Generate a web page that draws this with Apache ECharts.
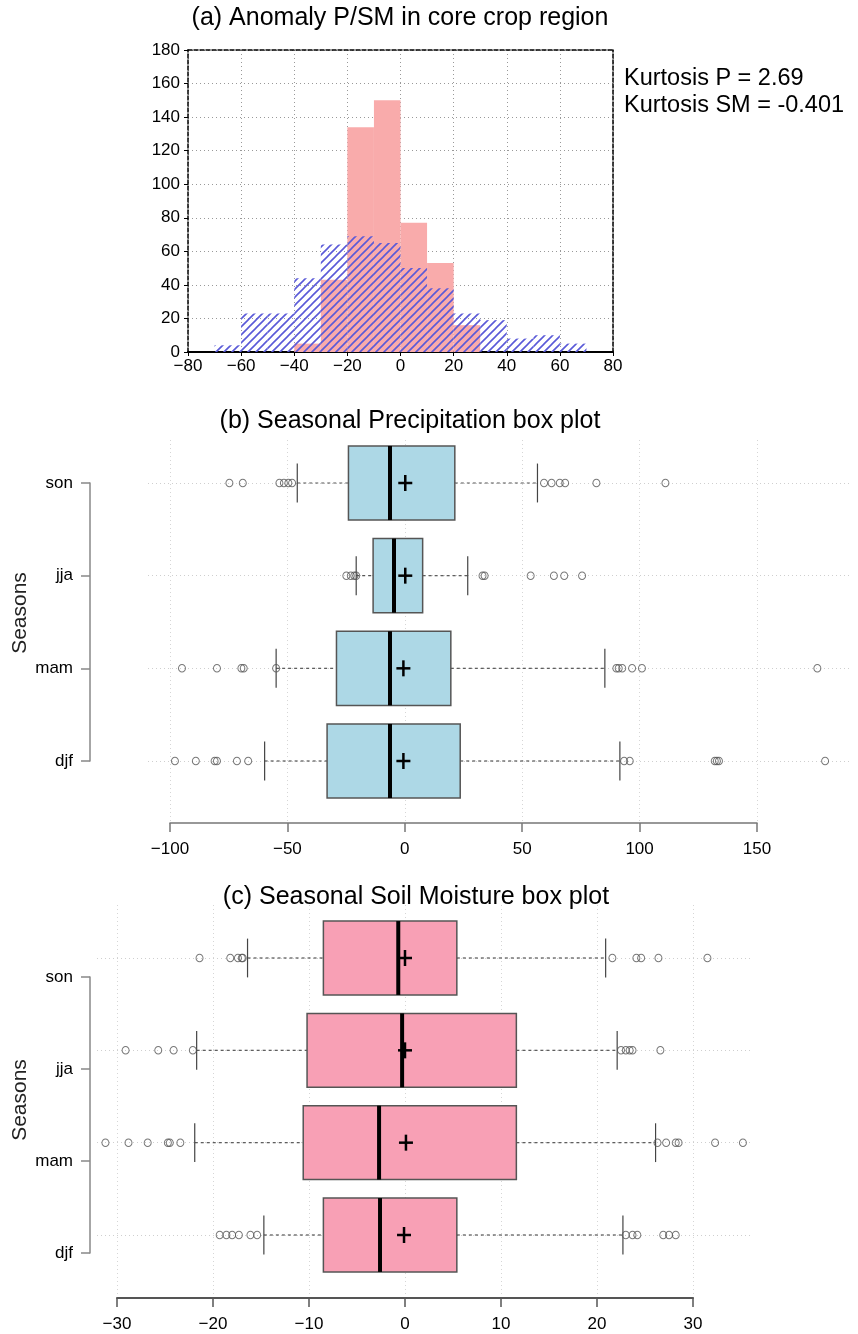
<!DOCTYPE html>
<html>
<head>
<meta charset="utf-8">
<script src="https://cdn.jsdelivr.net/npm/echarts@6/dist/echarts.min.js"></script>
<style>
  html, body { margin: 0; padding: 0; background: #fff; }
  #chart { width: 858px; height: 1334px; }
</style>
</head>
<body>
<div id="chart"></div>
<script>
// ---- (a) histogram data: left edges of 10-wide bins ----
const binLeft = [-70, -60, -50, -40, -30, -20, -10, 0, 10, 20, 30, 40, 50, 60];
const binWidth = 10;
const countP  = [0, 0, 0, 5, 43, 134, 150, 77, 53, 16, 0, 0, 0, 0];
const countSM = [4, 23, 23, 44, 64, 69, 65, 50, 38, 23, 19, 8, 10, 5];
const kurtLines = ['Kurtosis P = 2.69', 'Kurtosis SM = -0.401'];

// ---- box plots: order son, jja, mam, djf ----
const seasons = ['son', 'jja', 'mam', 'djf'];
const seasonAxis = ['djf', 'mam', 'jja', 'son']; // bottom -> top

// precipitation
const pLow  = [-45.8, -20.7, -54.8, -59.7];
const pQ1   = [-24.0, -13.5, -29.1, -33.1];
const pMed  = [-6.3, -4.6, -6.3, -6.3];
const pQ3   = [21.3, 7.6, 19.6, 23.6];
const pHigh = [56.5, 26.8, 85.2, 91.6];
const pMean = [0.2, 0.2, -0.6, -0.6];
const pOut = [
  [-74.7, -69, -53.4, -51.5, -49.6, -48, 59.3, 62.5, 66, 68.3, 81.6, 111],
  [-24.9, -23, -21.5, -20.7, 33.1, 34, 53.6, 63.5, 67.9, 75.5],
  [-94.9, -80, -69.6, -68.6, -54.8, 90.1, 91.1, 92.6, 96.8, 101, 175.7],
  [-97.9, -89, -81, -80, -71.5, -66.7, 93.4, 95.8, 132, 132.9, 133.8, 179]
];

// soil moisture
const sLow  = [-16.4, -21.7, -21.9, -14.7];
const sQ1   = [-8.5, -10.2, -10.6, -8.5];
const sMed  = [-0.7, -0.3, -2.7, -2.6];
const sQ3   = [5.4, 11.6, 11.6, 5.4];
const sHigh = [20.9, 22.1, 26.1, 22.7];
const sMean = [0, 0, 0.1, -0.1];
const sOut = [
  [-21.4, -18.2, -17.4, -17.0, -16.9, 21.6, 24.1, 24.6, 26.4, 31.5],
  [-29.1, -25.7, -24.1, -22.1, 22.5, 23.0, 23.4, 23.7, 26.6],
  [-31.2, -28.8, -26.8, -24.7, -24.5, -23.4, 26.3, 27.2, 28.2, 28.5, 32.3, 35.2],
  [-19.3, -18.6, -18.0, -17.3, -16.1, -15.4, 23.0, 23.7, 24.2, 26.9, 27.5, 28.2]
];

const FONT = '"Liberation Sans", Arial, sans-serif';
const minus = (v) => String(v).replace('-', '\u2212');

function makeHatch() {
  const c = document.createElement('canvas');
  c.width = 8; c.height = 8;
  const g = c.getContext('2d');
  g.strokeStyle = '#5a5ad8';
  g.lineWidth = 1.6;
  g.beginPath();
  g.moveTo(-1, 9); g.lineTo(9, -1);
  g.moveTo(-1, 1); g.lineTo(1, -1);
  g.moveTo(7, 9); g.lineTo(9, 7);
  g.stroke();
  return c;
}
const hatch = { image: makeHatch(), repeat: 'repeat' };

function histSeries(counts, fill) {
  return {
    type: 'custom',
    xAxisIndex: 0, yAxisIndex: 0,
    data: binLeft.map((x, i) => [x, x + binWidth, counts[i]]),
    renderItem: (params, api) => {
      const a = api.coord([api.value(0), api.value(2)]);
      const b = api.coord([api.value(1), 0]);
      return { type: 'rect', shape: { x: a[0], y: a[1], width: b[0] - a[0], height: b[1] - a[1] }, style: { fill: fill } };
    }
  };
}

function boxSeries(axisIdx, low, q1, med, q3, high, mean, fill) {
  return {
    type: 'custom',
    xAxisIndex: axisIdx, yAxisIndex: axisIdx,
    clip: false,
    encode: { x: [1, 2, 3, 4, 5, 6], y: 0 },
    data: seasons.map((s, i) => [s, low[i], q1[i], med[i], q3[i], high[i], mean[i]]),
    renderItem: (params, api) => {
      const cat = api.value(0);
      const band = api.size([0, 1])[1];
      const hh = band * 0.4, cap = band * 0.21;
      const pt = (v) => api.coord([v, cat]);
      const lo = pt(api.value(1)), b1 = pt(api.value(2)), md = pt(api.value(3));
      const b3 = pt(api.value(4)), hi = pt(api.value(5)), mn = pt(api.value(6));
      const y = lo[1];
      const dash = { stroke: '#555', lineWidth: 1.2, lineDash: [3, 3] };
      return {
        type: 'group',
        children: [
          { type: 'line', shape: { x1: lo[0], y1: y, x2: b1[0], y2: y }, style: dash },
          { type: 'line', shape: { x1: b3[0], y1: y, x2: hi[0], y2: y }, style: dash },
          { type: 'line', shape: { x1: lo[0], y1: y - cap, x2: lo[0], y2: y + cap }, style: { stroke: '#444', lineWidth: 1.2 } },
          { type: 'line', shape: { x1: hi[0], y1: y - cap, x2: hi[0], y2: y + cap }, style: { stroke: '#444', lineWidth: 1.2 } },
          { type: 'rect', shape: { x: b1[0], y: y - hh, width: b3[0] - b1[0], height: 2 * hh }, style: { fill: fill, stroke: '#555', lineWidth: 1.5 } },
          { type: 'line', shape: { x1: md[0], y1: y - hh, x2: md[0], y2: y + hh }, style: { stroke: '#000', lineWidth: 4 } },
          { type: 'line', shape: { x1: mn[0] - 7, y1: y, x2: mn[0] + 7, y2: y }, style: { stroke: '#000', lineWidth: 2.5 } },
          { type: 'line', shape: { x1: mn[0], y1: y - 8, x2: mn[0], y2: y + 8 }, style: { stroke: '#000', lineWidth: 2.5 } }
        ]
      };
    }
  };
}

function outlierSeries(axisIdx, outs) {
  const data = [];
  seasons.forEach((s, i) => outs[i].forEach((v) => data.push([v, s])));
  return {
    type: 'scatter',
    xAxisIndex: axisIdx, yAxisIndex: axisIdx,
    clip: false,
    symbol: 'circle',
    symbolSize: [7, 7.5],
    itemStyle: { color: 'rgba(255,255,255,0)', borderColor: '#555', borderWidth: 1 },
    data: data,
    z: 5
  };
}

const dotted = (c) => ({ show: true, lineStyle: { color: c, type: [1, 3], width: 1 } });
const hidden = { axisLine: { show: false, onZero: false }, axisTick: { show: false }, axisLabel: { show: false }, splitLine: { show: false } };
const tickLabel = (size) => ({ color: '#000', fontSize: size, fontFamily: FONT, formatter: minus });
const seasonLabel = { color: '#000', fontSize: 17, fontFamily: FONT, margin: 17 };

const option = {
  animation: false,
  backgroundColor: '#fff',
  grid: [
    { left: 188, top: 50, width: 425, height: 302 },      // 0 histogram
    { left: 170, top: 440, width: 587, height: 383 },     // 1 (b) x axis
    { left: 148, top: 483, width: 703, height: 278 },     // 2 (b) data
    { left: 117, top: 905, width: 576, height: 393 },     // 3 (c) x axis
    { left: 97, top: 958, width: 654, height: 277 },      // 4 (c) data
    { left: 90, top: 977, width: 10, height: 276 }        // 5 (c) season labels
  ],
  xAxis: [
    { gridIndex: 0, type: 'value', min: -80, max: 80, interval: 20,
      axisLine: { onZero: false, lineStyle: { color: '#000', width: 2 } },
      axisTick: { length: 4, lineStyle: { color: '#000' } },
      axisLabel: Object.assign(tickLabel(17), { margin: 6 }),
      splitLine: dotted('#999') },
    { gridIndex: 0, type: 'value', position: 'top', min: -80, max: 80,
      axisLine: { onZero: false, lineStyle: { color: '#000', width: 1.5, type: [4, 2] } },
      axisTick: { show: false }, axisLabel: { show: false }, splitLine: { show: false } },
    { gridIndex: 1, type: 'value', min: -100, max: 150, interval: 50,
      axisLine: { onZero: false, lineStyle: { color: '#777', width: 1.5 } },
      axisTick: { length: 9, lineStyle: { color: '#777', width: 1.5 } },
      axisLabel: Object.assign(tickLabel(17), { margin: 18 }),
      splitLine: dotted('#d6d6d6') },
    Object.assign({ gridIndex: 2, type: 'value', min: -109.37, max: 190.03 }, hidden),
    { gridIndex: 3, type: 'value', min: -30, max: 30, interval: 10,
      axisLine: { onZero: false, lineStyle: { color: '#555', width: 2 } },
      axisTick: { length: 9, lineStyle: { color: '#555', width: 1.5 } },
      axisLabel: Object.assign(tickLabel(17), { margin: 18 }),
      splitLine: dotted('#d6d6d6') },
    Object.assign({ gridIndex: 4, type: 'value', min: -32.08, max: 36.04 }, hidden),
    Object.assign({ gridIndex: 5, type: 'value', min: 0, max: 1 }, hidden)
  ],
  yAxis: [
    { gridIndex: 0, type: 'value', min: 0, max: 180, interval: 20,
      axisLine: { show: true, onZero: false, lineStyle: { color: '#000', width: 1.5, type: [4, 2] } },
      axisTick: { show: true, length: 4, lineStyle: { color: '#000' } },
      axisLabel: Object.assign(tickLabel(17), { margin: 8 }),
      splitLine: dotted('#999') },
    { gridIndex: 0, type: 'value', position: 'right', min: 0, max: 180,
      axisLine: { show: true, onZero: false, lineStyle: { color: '#000', width: 1.5, type: [4, 2] } },
      axisTick: { show: false }, axisLabel: { show: false }, splitLine: { show: false } },
    Object.assign({ gridIndex: 1, type: 'value', min: 0, max: 1 }, hidden),
    { gridIndex: 2, type: 'category', data: seasonAxis, boundaryGap: false, offset: 58,
      axisLine: { show: true, onZero: false, lineStyle: { color: '#888', width: 1.5 } },
      axisTick: { show: true, length: 9, lineStyle: { color: '#888', width: 1.5 } },
      axisLabel: seasonLabel,
      splitLine: dotted('#cfcfcf') },
    Object.assign({ gridIndex: 3, type: 'value', min: 0, max: 1 }, hidden),
    { gridIndex: 4, type: 'category', data: seasonAxis, boundaryGap: false,
      axisLine: { show: false, onZero: false }, axisTick: { show: false }, axisLabel: { show: false },
      splitLine: dotted('#cfcfcf') },
    { gridIndex: 5, type: 'category', data: seasonAxis, boundaryGap: false,
      axisLine: { show: true, onZero: false, lineStyle: { color: '#888', width: 1.5 } },
      axisTick: { show: true, length: 9, lineStyle: { color: '#888', width: 1.5 } },
      axisLabel: seasonLabel,
      splitLine: { show: false } }
  ],
  series: [
    histSeries(countP, '#f9abab'),
    histSeries(countSM, hatch),
    boxSeries(3, pLow, pQ1, pMed, pQ3, pHigh, pMean, '#add8e6'),
    outlierSeries(3, pOut),
    boxSeries(5, sLow, sQ1, sMed, sQ3, sHigh, sMean, '#f8a0b5'),
    outlierSeries(5, sOut)
  ],
  graphic: [
    { type: 'text', x: 400, y: 18, style: { text: '(a) Anomaly P/SM in core crop region', font: '25px ' + FONT, fill: '#000', textAlign: 'center', textVerticalAlign: 'middle' } },
    { type: 'text', x: 624, y: 79, style: { text: kurtLines[0], font: '23.5px ' + FONT, fill: '#000', textAlign: 'left', textVerticalAlign: 'middle' } },
    { type: 'text', x: 624, y: 106, style: { text: kurtLines[1], font: '23.5px ' + FONT, fill: '#000', textAlign: 'left', textVerticalAlign: 'middle' } },
    { type: 'text', x: 410, y: 421, style: { text: '(b) Seasonal Precipitation box plot', font: '25px ' + FONT, fill: '#000', textAlign: 'center', textVerticalAlign: 'middle' } },
    { type: 'text', x: 416, y: 897, style: { text: '(c) Seasonal Soil Moisture box plot', font: '25px ' + FONT, fill: '#000', textAlign: 'center', textVerticalAlign: 'middle' } },
    { type: 'text', x: 20, y: 613, rotation: Math.PI / 2, style: { text: 'Seasons', font: '21px ' + FONT, fill: '#222', textAlign: 'center', textVerticalAlign: 'middle' } },
    { type: 'text', x: 20, y: 1100, rotation: Math.PI / 2, style: { text: 'Seasons', font: '21px ' + FONT, fill: '#222', textAlign: 'center', textVerticalAlign: 'middle' } }
  ]
};

const chart = echarts.init(document.getElementById('chart'));
chart.setOption(option);
</script>
</body>
</html>
